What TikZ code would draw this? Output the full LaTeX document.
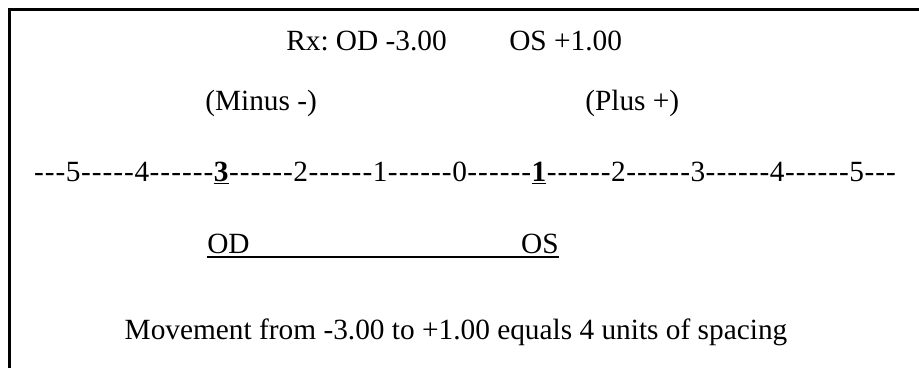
\documentclass[tikz,border=0pt]{standalone}
\usepackage{fontspec}
\setmainfont{Liberation Serif}[Ligatures=TeXOff]
\frenchspacing
% a run of #1 hyphens of the scale
\newcommand\hyrun[1]{\foreach\k in {1,...,#1}{\makebox[.368em]{-}}}

\begin{document}
\begin{tikzpicture}[x=.75pt,y=-.75pt,
  txt/.style={inner sep=0pt,font=\fontsize{22}{26}\selectfont},
  uline/.style={line width=1.5pt}]
\path[use as bounding box] (0,0) rectangle (919,368);
% frame, open at the right and at the bottom
\draw[line width=2.25pt] (9,368)--(9,9)--(919,9);

\node[txt,anchor=base west] (rxod) at (286,50) {Rx: OD -3.00};
\node[txt,anchor=base west] (rxos) at (509,50) {OS +1.00};

\node[txt,anchor=base west] (minus) at (205,110) {(Minus -)};
\node[txt,anchor=base west] (plus) at (585,110) {(Plus +)};

\node[txt,anchor=base] (scale) at (465,181) {\hyrun{3}5\hyrun{5}4\hyrun{6}\underline{\textbf{3}}\hyrun{6}2\hyrun{6}1\hyrun{6}0\hyrun{6}\underline{\textbf{1}}\hyrun{6}2\hyrun{6}3\hyrun{6}4\hyrun{6}5\hyrun{3}};

\node[txt,anchor=base west] (od) at (207,253) {OD};
\node[txt,anchor=base east] (os) at (559,253) {OS};
\draw[uline] ([yshift=-3pt]od.base west) -- ([yshift=-3pt]os.base east);

\node[txt,anchor=base] (move) at (456,339) {Movement from -3.00 to +1.00 equals 4 units of spacing};
\end{tikzpicture}
\end{document}
